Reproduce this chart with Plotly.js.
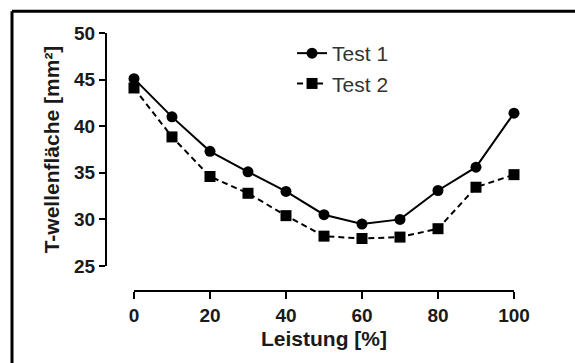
<!DOCTYPE html>
<html>
<head>
<meta charset="utf-8">
<script src="https://cdn.plot.ly/plotly-3.0.1.min.js"></script>
<style>html,body{margin:0;padding:0;background:#fff;}#chart{width:575px;height:363px;}</style>
</head>
<body>
<div id="chart"></div>
<script>
const leistung = [0, 10, 20, 30, 40, 50, 60, 70, 80, 90, 100];
const test1 = [45.1, 41.0, 37.3, 35.1, 33.0, 30.5, 29.5, 30.0, 33.1, 35.6, 41.4];
const test2 = [44.1, 38.85, 34.6, 32.8, 30.4, 28.2, 27.95, 28.1, 29.0, 33.45, 34.8];
const seriesNames = ['Test 1', 'Test 2'];
const xTicks = [0, 20, 40, 60, 80, 100];
const yTicks = [25, 30, 35, 40, 45, 50];

const FONT = 'Liberation Sans, Arial, sans-serif';

const traces = [
  {
    x: leistung, y: test1, name: seriesNames[0], type: 'scatter', mode: 'lines+markers',
    line: {color: '#000', width: 2},
    marker: {symbol: 'circle', size: 11, color: '#000'},
    cliponaxis: false
  },
  {
    x: leistung, y: test2, name: seriesNames[1], type: 'scatter', mode: 'lines+markers',
    line: {color: '#000', width: 2, dash: '6px,4px'},
    marker: {symbol: 'square', size: 11, color: '#000'},
    cliponaxis: false
  }
];

const layout = {
  width: 575, height: 363,
  margin: {l: 106, r: 61, t: 33, b: 72, pad: 0},
  paper_bgcolor: '#fff', plot_bgcolor: '#fff',
  showlegend: true,
  legend: {
    x: 0.456, xanchor: 'left', y: 1.0, yanchor: 'top',
    bgcolor: 'rgba(0,0,0,0)',
    font: {family: FONT, size: 21, color: '#333'},
    tracegroupgap: 0
  },
  xaxis: {
    domain: [0.0686, 1], anchor: 'free', position: 0,
    range: [0, 100], tickvals: xTicks, ticktext: xTicks.map(String),
    showgrid: false, zeroline: false, showline: true, linecolor: '#000', linewidth: 2,
    ticks: 'outside', ticklen: 7, tickwidth: 2, tickcolor: '#000',
    tickfont: {family: FONT, size: 19, color: '#1a1a1a', weight: 'bold'},
    title: {text: '<b>Leistung [%]</b>', font: {family: FONT, size: 21, color: '#1a1a1a'}, standoff: 6}
  },
  yaxis: {
    domain: [0.097, 1], anchor: 'free', position: 0,
    range: [25, 50], tickvals: yTicks, ticktext: yTicks.map(String),
    showgrid: false, zeroline: false, showline: true, linecolor: '#000', linewidth: 2,
    ticks: 'outside', ticklen: 6, tickwidth: 2, tickcolor: '#000',
    tickfont: {family: FONT, size: 19, color: '#1a1a1a', weight: 'bold'},
    title: {text: '<b>T-wellenfläche [mm²]</b>', font: {family: FONT, size: 21, color: '#1a1a1a'}, standoff: 8}
  },
  shapes: [
    {type: 'line', xref: 'paper', yref: 'paper', x0: -0.2304, x1: 1.2, y0: 1.0841, y1: 1.0841, line: {color: '#000', width: 3}},
    {type: 'line', xref: 'paper', yref: 'paper', x0: -0.2304, x1: -0.2304, y0: 1.0841, y1: -0.35, line: {color: '#000', width: 3}}
  ]
};

Plotly.newPlot('chart', traces, layout, {displayModeBar: false, staticPlot: true});
</script>
</body>
</html>
